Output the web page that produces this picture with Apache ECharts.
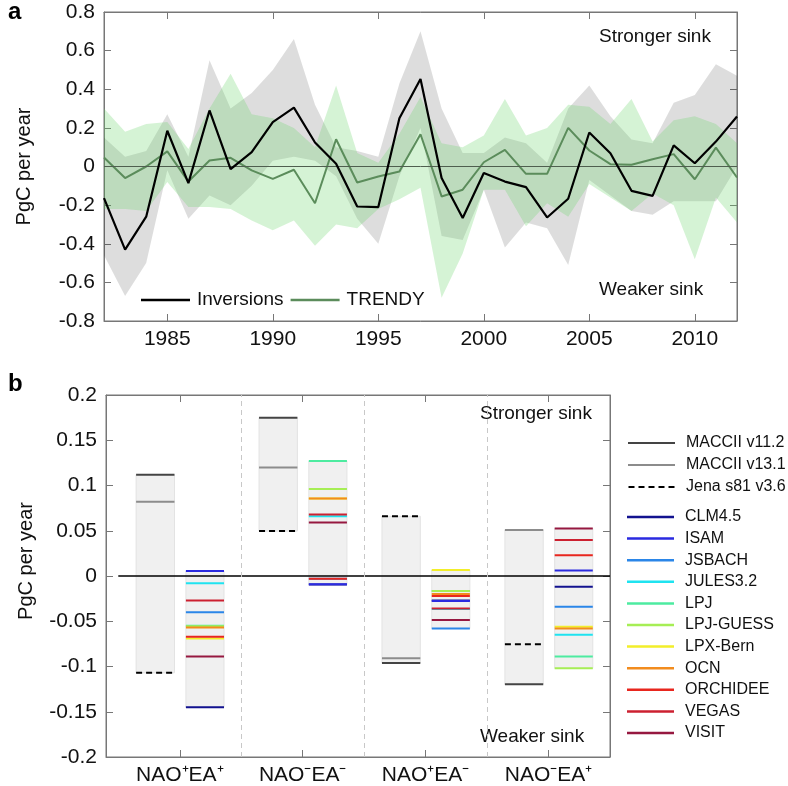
<!DOCTYPE html>
<html>
<head>
<meta charset="utf-8">
<script src="https://cdn.jsdelivr.net/npm/echarts@6/dist/echarts.min.js"></script>
<style>
html, body { margin: 0; padding: 0; background: #fff; }
#container { width: 788px; height: 786px; }
</style>
</head>
<body>
<div id="container"></div>
<script>
// panel a: yearly anomalies
var years = [1982, 1983, 1984, 1985, 1986, 1987, 1988, 1989, 1990, 1991, 1992, 1993, 1994, 1995, 1996, 1997,
	1998, 1999, 2000, 2001, 2002, 2003, 2004, 2005, 2006, 2007, 2008, 2009, 2010, 2011, 2012];
var inversions = [-0.164, -0.43, -0.26, 0.185, -0.086, 0.29, -0.014, 0.074, 0.23, 0.305, 0.124, 0.014, -0.207, -0.21, 0.25, 0.453,
	-0.06, -0.267, -0.034, -0.078, -0.107, -0.264, -0.167, 0.176, 0.069, -0.126, -0.152, 0.109, 0.017, 0.129, 0.259];
var trendy = [0.047, -0.06, 0.0, 0.078, -0.078, 0.031, 0.045, -0.02, -0.064, -0.017, -0.19, 0.141, -0.083, -0.052, -0.026, 0.167,
	-0.155, -0.12, 0.022, 0.086, -0.038, -0.038, 0.2, 0.083, 0.012, 0.009, 0.038, 0.064, -0.066, 0.098, -0.057];
var invHigh = [0.15, 0.05, 0.08, 0.27, 0.05, 0.55, 0.30, 0.38, 0.50, 0.66, 0.32, 0.10, 0.08, 0.05, 0.43, 0.70,
	0.30, 0.07, 0.07, 0.15, 0.12, 0.02, 0.30, 0.42, 0.26, 0.14, 0.12, 0.33, 0.37, 0.53, 0.47];
var invLow = [-0.46, -0.67, -0.50, -0.02, -0.27, -0.15, -0.20, -0.10, 0.03, 0.05, 0.03, -0.05, -0.27, -0.40, -0.05, 0.20,
	-0.36, -0.38, -0.12, -0.42, -0.29, -0.32, -0.51, -0.07, -0.15, -0.23, -0.25, -0.18, -0.18, -0.18, 0.00];
var trHigh = [0.30, 0.18, 0.22, 0.23, 0.09, 0.30, 0.48, 0.27, 0.25, 0.20, 0.10, 0.42, 0.07, 0.02, 0.17, 0.36,
	0.12, 0.10, 0.16, 0.35, 0.16, 0.20, 0.32, 0.31, 0.22, 0.35, 0.13, 0.24, 0.26, 0.22, 0.12];
var trLow = [-0.22, -0.22, -0.23, -0.08, -0.21, -0.21, -0.22, -0.28, -0.33, -0.28, -0.41, -0.30, -0.32, -0.22, -0.17, -0.11,
	-0.68, -0.45, -0.12, -0.12, -0.31, -0.19, -0.26, -0.09, -0.16, -0.23, -0.14, -0.20, -0.48, -0.16, -0.29];
var yearTicks = [1985, 1990, 1995, 2000, 2005, 2010];

// panel b: regime composites
var regimes = ['NAO⁺EA⁺', 'NAO⁻EA⁻', 'NAO⁺EA⁻', 'NAO⁻EA⁺'];
var maccV112 = [0.112, 0.175, -0.096, -0.1195];
var maccV131 = [0.082, 0.120, -0.091, 0.0507];
var jenaS81 = [-0.107, 0.0496, 0.066, -0.0754];
var clm45 = [-0.145, -0.0095, -0.027, -0.0118];
var isam = [0.0055, -0.009, -0.0275, 0.006];
var jsbach = [-0.040, -0.003, -0.058, -0.034];
var jules32 = [-0.008, 0.066, -0.0365, -0.065];
var lpj = [-0.055, 0.127, -0.0165, -0.089];
var lpjGuess = [-0.0555, 0.096, -0.0165, -0.102];
var lpxBern = [-0.069, 0.0855, 0.0066, -0.056];
var ocn = [-0.057, 0.0855, -0.020, -0.058];
var orchidee = [-0.067, -0.003, -0.022, 0.023];
var vegas = [-0.027, 0.068, -0.036, 0.0397];
var visit = [-0.089, 0.059, -0.0485, 0.0526];

var modelNames = ['CLM4.5', 'ISAM', 'JSBACH', 'JULES3.2', 'LPJ', 'LPJ-GUESS', 'LPX-Bern', 'OCN', 'ORCHIDEE', 'VEGAS', 'VISIT'];
var modelValues = [clm45, isam, jsbach, jules32, lpj, lpjGuess, lpxBern, ocn, orchidee, vegas, visit];
var modelColors = ['#12128f', '#2a2ae0', '#2b86e8', '#1fe3f0', '#4deba0', '#a6ee55', '#f2ee2a', '#f28c1e', '#e8261e', '#cc2030', '#961840'];

var FONT = 'Liberation Sans, Arial, sans-serif';

function pairs(xs, ys) {
	return xs.map(function(x, i) { return [x, ys[i]]; });
}

// shaded spread between lo and hi, drawn once as one polygon
function band(lo, hi, fill, z) {
	return {
		type: 'custom', xAxisIndex: 0, yAxisIndex: 0, silent: true, z: z,
		encode: { x: 0, y: [1, 2] },
		data: years.map(function(y, i) { return [y, lo[i], hi[i]]; }),
		renderItem: function(params, api) {
			if (params.dataIndex !== 0) return;
			var pts = [];
			for (var i = 0; i < years.length; i++) pts.push(api.coord([years[i], hi[i]]));
			for (var j = years.length - 1; j >= 0; j--) pts.push(api.coord([years[j], lo[j]]));
			return { type: 'polygon', shape: { points: pts }, style: { fill: fill } };
		}
	};
}

// horizontal segment next to a regime tick
function segment(off0, off1, dash) {
	return function(params, api) {
		var a = api.coord([api.value(0) + off0, api.value(1)]);
		var b = api.coord([api.value(0) + off1, api.value(1)]);
		return {
			type: 'line',
			shape: { x1: a[0], y1: a[1], x2: b[0], y2: b[1] },
			style: { stroke: api.visual('color'), lineWidth: 2, lineDash: dash || null }
		};
	};
}
function box(off0, off1) {
	return function(params, api) {
		var a = api.coord([api.value(0) + off0, api.value(2)]);
		var b = api.coord([api.value(0) + off1, api.value(1)]);
		return {
			type: 'rect',
			shape: { x: a[0], y: a[1], width: b[0] - a[0], height: b[1] - a[1] },
			style: { fill: '#f0f0f0', stroke: '#e3e3e3', lineWidth: 1 }
		};
	};
}

var invBoxes = regimes.map(function(r, i) {
	var v = [maccV112[i], maccV131[i], jenaS81[i]];
	return [i + 1, Math.min.apply(null, v), Math.max.apply(null, v)];
});
var trBoxes = regimes.map(function(r, i) {
	var v = modelValues.map(function(m) { return m[i]; });
	return [i + 1, Math.min.apply(null, v), Math.max.apply(null, v)];
});
function regimePoints(vals) {
	return vals.map(function(v, i) { return [i + 1, v]; });
}

var INV = [-0.355, -0.043];
var TRD = [0.05, 0.36];
var dashIcon = 'path://M0,0h6v2h-6z M10,0h6v2h-6z M20,0h6v2h-6z M30,0h6v2h-6z M40,0h6v2h-6z';

var axisColor = '#777';

function tickFmt1(v) { return Math.abs(v) < 1e-9 ? '0' : v.toFixed(1); }
function tickFmt2(v) { return Math.abs(v) < 1e-9 ? '0' : String(+v.toFixed(2)); }

var dom = document.getElementById('container');
var myChart = echarts.init(dom);

var greenBand = band(trLow, trHigh, 'rgba(100,210,100,0.27)', 2);
greenBand.markLine = {
	silent: true, symbol: 'none', label: { show: false },
	lineStyle: { color: '#4f5f4f', width: 1, type: 'solid' },
	data: [{ yAxis: 0 }]
};

var series = [
	// panel a
	band(invLow, invHigh, 'rgba(0,0,0,0.135)', 1),
	greenBand,
	{ name: 'TRENDY', type: 'line', xAxisIndex: 0, yAxisIndex: 0, symbol: 'none', z: 4,
		itemStyle: { color: '#5b8c5b' }, lineStyle: { color: '#5b8c5b', width: 2 }, data: pairs(years, trendy) },
	{ name: 'Inversions', type: 'line', xAxisIndex: 0, yAxisIndex: 0, symbol: 'none', z: 5,
		itemStyle: { color: '#000' }, lineStyle: { color: '#000', width: 2.2 }, data: pairs(years, inversions) },

	// panel b boxes
	{ type: 'custom', xAxisIndex: 2, yAxisIndex: 2, silent: true, z: 1, renderItem: box(INV[0], INV[1]),
		encode: { x: 0, y: [1, 2] }, data: invBoxes,
		markLine: { silent: true, symbol: 'none', label: { show: false },
			lineStyle: { color: '#c8c8c8', width: 1, type: [5, 4] },
			data: [{ xAxis: 1.5 }, { xAxis: 2.5 }, { xAxis: 3.5 }] } },
	{ type: 'custom', xAxisIndex: 2, yAxisIndex: 2, silent: true, z: 1, renderItem: box(TRD[0], TRD[1]),
		encode: { x: 0, y: [1, 2] }, data: trBoxes,
		markLine: { silent: true, symbol: 'none', label: { show: false }, z: 2,
			lineStyle: { color: '#000', width: 1.5, type: 'solid' },
			data: [[{ coord: [0.5, 0] }, { coord: [4.5, 0] }]] } },
	{ name: 'MACCII v11.2', type: 'custom', xAxisIndex: 2, yAxisIndex: 2, z: 3, itemStyle: { color: '#444' },
		renderItem: segment(INV[0], INV[1]), encode: { x: 0, y: 1 }, data: regimePoints(maccV112) },
	{ name: 'MACCII v13.1', type: 'custom', xAxisIndex: 2, yAxisIndex: 2, z: 3, itemStyle: { color: '#8c8c8c' },
		renderItem: segment(INV[0], INV[1]), encode: { x: 0, y: 1 }, data: regimePoints(maccV131) },
	{ name: 'Jena s81 v3.6', type: 'custom', xAxisIndex: 2, yAxisIndex: 2, z: 3, itemStyle: { color: '#000' },
		renderItem: segment(INV[0], INV[1], [6, 4]), encode: { x: 0, y: 1 }, data: regimePoints(jenaS81) }
];

modelNames.forEach(function(name, k) {
	series.push({
		name: name, type: 'custom', xAxisIndex: 2, yAxisIndex: 2, z: 3,
		itemStyle: { color: modelColors[k] },
		renderItem: segment(TRD[0], TRD[1]),
		encode: { x: 0, y: 1 },
		data: regimePoints(modelValues[k])
	});
});

function frameAxis(extra) {
	var ax = {
		axisLine: { show: true, onZero: false, lineStyle: { color: axisColor } },
		axisTick: { show: true, inside: true, length: 7, lineStyle: { color: axisColor } },
		axisLabel: { show: false },
		splitLine: { show: false }
	};
	for (var k in extra) ax[k] = extra[k];
	return ax;
}

var option = {
	animation: false,
	grid: [
		{ left: 104, top: 12, width: 633, height: 309, show: true, borderColor: axisColor, borderWidth: 1 },
		{ left: 106, top: 395, width: 504, height: 363, show: true, borderColor: axisColor, borderWidth: 1 }
	],
	xAxis: [
		frameAxis({ gridIndex: 0, type: 'value', min: 1982, max: 2012, position: 'bottom',
			axisTick: { show: true, inside: true, length: 7, customValues: yearTicks, lineStyle: { color: axisColor } },
			axisLabel: { customValues: yearTicks, margin: 8, fontFamily: FONT, fontSize: 21, color: '#111',
				formatter: function(v) { return String(v); } } }),
		frameAxis({ gridIndex: 0, type: 'value', min: 1982, max: 2012, position: 'top',
			axisTick: { show: true, inside: true, length: 7, customValues: yearTicks, lineStyle: { color: axisColor } } }),
		frameAxis({ gridIndex: 1, type: 'value', min: 0.4, max: 4.5, position: 'bottom',
			axisTick: { show: true, inside: true, length: 7, customValues: [1, 2, 3, 4], lineStyle: { color: axisColor } },
			axisLabel: { customValues: [1, 2, 3, 4], margin: 8, fontFamily: FONT, fontSize: 21, color: '#111',
				formatter: function(v) { return regimes[Math.round(v) - 1]; } } }),
		frameAxis({ gridIndex: 1, type: 'value', min: 0.4, max: 4.5, position: 'top',
			axisTick: { show: true, inside: true, length: 7, customValues: [1, 2, 3, 4], lineStyle: { color: axisColor } } })
	],
	yAxis: [
		frameAxis({ gridIndex: 0, type: 'value', min: -0.8, max: 0.8, interval: 0.2, position: 'left',
			name: 'PgC per year', nameLocation: 'middle', nameGap: 70,
			nameTextStyle: { fontFamily: FONT, fontSize: 20, color: '#111' },
			axisLabel: { margin: 9, fontFamily: FONT, fontSize: 21, color: '#111', formatter: tickFmt1 } }),
		frameAxis({ gridIndex: 0, type: 'value', min: -0.8, max: 0.8, interval: 0.2, position: 'right' }),
		frameAxis({ gridIndex: 1, type: 'value', min: -0.2, max: 0.2, interval: 0.05, position: 'left',
			name: 'PgC per year', nameLocation: 'middle', nameGap: 70,
			nameTextStyle: { fontFamily: FONT, fontSize: 20, color: '#111', padding: [0, 0, 0, 30] },
			axisLabel: { margin: 9, fontFamily: FONT, fontSize: 21, color: '#111', formatter: tickFmt2 } }),
		frameAxis({ gridIndex: 1, type: 'value', min: -0.2, max: 0.2, interval: 0.05, position: 'right' })
	],
	legend: [
		{ orient: 'horizontal', left: 141, top: 289, padding: 0, itemGap: 7, itemWidth: 49, itemHeight: 2.5,
			selectedMode: false,
			textStyle: { fontFamily: FONT, fontSize: 19, color: '#111', lineHeight: 22, padding: [0, 0, 0, 2] },
			data: [{ name: 'Inversions', icon: 'rect' }, { name: 'TRENDY', icon: 'rect' }] },
		{ orient: 'vertical', left: 628, top: 433, padding: 0, itemGap: 2, itemWidth: 47, itemHeight: 2,
			selectedMode: false,
			textStyle: { fontFamily: FONT, fontSize: 16, color: '#111', lineHeight: 20, padding: [0, 0, 0, 6] },
			data: [{ name: 'MACCII v11.2', icon: 'rect' }, { name: 'MACCII v13.1', icon: 'rect' },
				{ name: 'Jena s81 v3.6', icon: dashIcon }] },
		{ orient: 'vertical', left: 627, top: 507, padding: 0, itemGap: 1.6, itemWidth: 47, itemHeight: 2.5,
			selectedMode: false,
			textStyle: { fontFamily: FONT, fontSize: 16, color: '#111', lineHeight: 20, padding: [0, 0, 0, 6] },
			data: modelNames.map(function(n) { return { name: n, icon: 'rect' }; }) }
	],
	graphic: [
		{ type: 'text', left: 8, top: 0, style: { text: 'a', font: 'bold 24px ' + FONT, fill: '#000' } },
		{ type: 'text', left: 8, top: 372, style: { text: 'b', font: 'bold 24px ' + FONT, fill: '#000' } },
		{ type: 'text', left: 599, top: 27, style: { text: 'Stronger sink', font: '19px ' + FONT, fill: '#111' } },
		{ type: 'text', left: 599, top: 280, style: { text: 'Weaker sink', font: '19px ' + FONT, fill: '#111' } },
		{ type: 'text', left: 480, top: 404, style: { text: 'Stronger sink', font: '19px ' + FONT, fill: '#111' } },
		{ type: 'text', left: 480, top: 727, style: { text: 'Weaker sink', font: '19px ' + FONT, fill: '#111' } }
	],
	series: series
};
myChart.setOption(option, true);
</script>
</body>
</html>
